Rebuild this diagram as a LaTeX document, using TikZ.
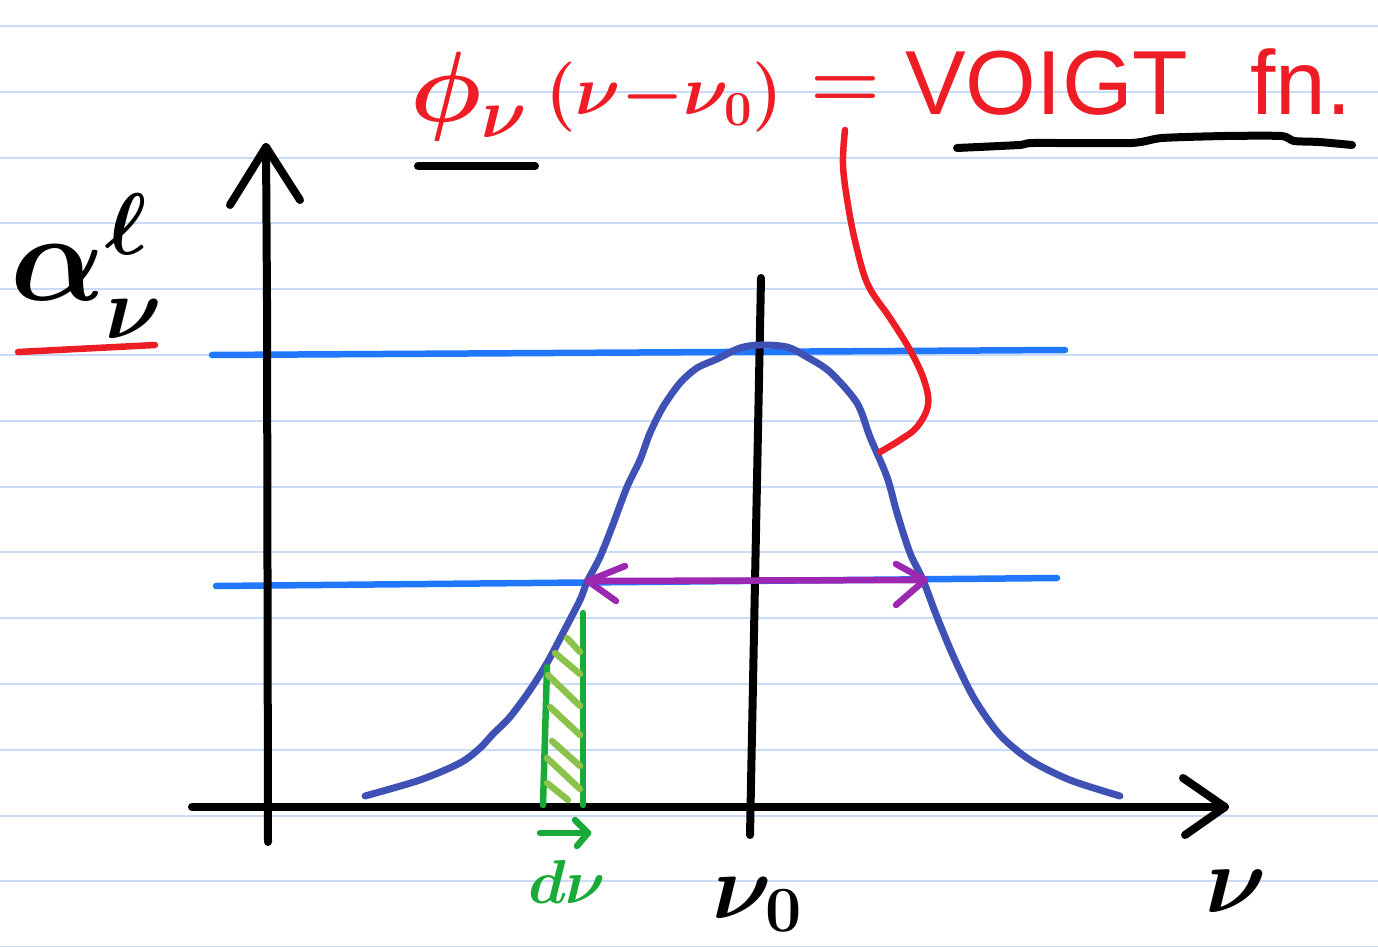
\RequirePackage{fix-cm}
\documentclass[tikz,border=0pt]{standalone}
\usepackage{fontspec}
\setmainfont{Liberation Sans}
\definecolor{rulecol}{HTML}{C8DCF7}
\definecolor{redpen}{HTML}{EE1C25}
\definecolor{bluepen}{HTML}{2277FF}
\definecolor{curvecol}{HTML}{3F51B5}
\definecolor{purplepen}{HTML}{9C27B0}
\definecolor{greenpen}{HTML}{1AAA3A}
\definecolor{lightgreen}{HTML}{8BC34A}
\newcommand\phinu{$\phi_{\nu}$}
\newcommand\argnu{$(\nu{-}\nu_{0})$}
\newcommand\alphalbl{$\alpha^{\ell}_{\nu}$}
\newcommand\dnulbl{$d\nu$}
\newcommand\nuzerolbl{$\nu_{0}$}
\newcommand\nulbl{$\nu$}
\newcommand\eqlbl{$=$}
\tikzset{
  paperrule/.style={rulecol, line width=2pt},
  blackpen/.style={line width=8pt, line cap=round, line join=round, black},
  bluehl/.style={line width=6.5pt, line cap=round, bluepen},
  curvepen/.style={line width=7pt, line cap=round, line join=round, curvecol},
  redline/.style={line width=6.5pt, line cap=round, line join=round, redpen},
  purpen/.style={line width=6.5pt, line cap=round, line join=round, purplepen},
  grpen/.style={line width=6.5pt, line cap=round, line join=round, greenpen},
  hatchpen/.style={line width=6.5pt, line cap=round, lightgreen},
  lbl/.style={inner sep=0pt, anchor=base west}
}
\begin{document}
\begin{tikzpicture}[x=1pt,y=-1pt]
\useasboundingbox (0,0) rectangle (1378,947);
\fill[white] (0,0) rectangle (1378,947);
% ruled paper
\foreach \k in {0,...,14} \draw[paperrule] (0,26+65.8*\k) -- (1378,26+65.8*\k);

% coordinates
\coordinate (ybot) at (268,842);
\coordinate (ytop) at (266,147);
\coordinate (xleft) at (192,807);
\coordinate (xright) at (1225,807);
\coordinate (nutop) at (761,278);
\coordinate (nubot) at (750,835);
\coordinate (hiL) at (212,355);
\coordinate (hiR) at (1065,350);
\coordinate (loL) at (216,586);
\coordinate (loR) at (1057,578);
\coordinate (hwL) at (588,581);
\coordinate (hwR) at (925,580);
\coordinate (redstart) at (845,130);
\coordinate (curvept) at (880,452);

% blue horizontal lines
\draw[bluehl] (hiL) -- (hiR);
\draw[bluehl] (loL) -- (loR);

% axes
\draw[blackpen] (ybot) -- (267,300) -- (ytop);
\draw[blackpen] (230,205) -- (ytop) -- (300,200);
\draw[blackpen] (xleft) -- (xright);
\draw[blackpen] (1183,778) -- (xright) -- (1185,835);
\draw[blackpen] (nutop) -- (nubot);

% profile curve
\draw[curvepen] plot[smooth, tension=0.5] coordinates {(365,796) (420,780) (460,763) (480,748) (493,734) (510,717) (530,690) (547,663) (563,633) (580,600) (587,582) (600,557) (612,527) (627,487) (640,460) (650,433) (663,407) (680,383) (697,368) (717,359) (740,348) (760,345) (787,347) (807,357) (830,372) (857,403) (870,437) (887,477) (897,513) (910,553) (923,580) (937,617) (955,660) (975,700) (1000,735) (1030,760) (1070,780) (1120,796)};

% half width arrow
\draw[purpen] (hwL) -- (hwR);
\draw[purpen] (625,566) -- (hwL) -- (616,601);
\draw[purpen] (896,564) -- (hwR) -- (896,605);

% green strip
\draw[grpen] (547,667) -- (543,805);
\draw[grpen] (583,613) -- (583,805);
\foreach \a/\b/\c/\d in {567/638/580/652, 555/653/580/674, 548/675/580/706, 550/707/580/735, 552/741/580/766, 547/758/580/789, 547/783/568/800}
  \draw[hatchpen] (\a,\b) -- (\c,\d);
\draw[grpen] (540,833) -- (588,833);
\draw[grpen] (575,820) -- (588,833) -- (577,846);

% red connector
\draw[redline] plot[smooth, tension=0.6] coordinates {(redstart) (843,165) (848,205) (856,245) (868,285) (890,318) (910,350) (924,380) (928,405) (917,427) (900,440) (curvept)};

% underlines
\draw[blackpen] (418,166) -- (535,166);
\draw[blackpen] plot[smooth, tension=0.4] coordinates {(957,148) (1019,145) (1034,143) (1131,143) (1162,138) (1225,136) (1281,136) (1294,141) (1319,142) (1352,145)};
\draw[redline] (18,352) -- (155,345);

% labels
\node[lbl, text=redpen, font=\fontsize{100}{100}\selectfont\boldmath] (phi) at (410,122) {\phinu};
\node[lbl, text=redpen, font=\fontsize{70}{70}\selectfont\boldmath] (arg) at (545,115) {\argnu};
\node[inner sep=0pt, text=redpen, font=\fontsize{80}{80}\selectfont\boldmath] (eq) at (845,92) {\eqlbl};
\node[lbl, text=redpen, font=\fontsize{91}{91}\selectfont] (voigt) at (905,115) {VOIGT};
\node[lbl, text=redpen, font=\fontsize{91}{91}\selectfont] (fn) at (1250,115) {fn.};
\node[lbl, font=\fontsize{125}{125}\selectfont\boldmath] (alpha) at (10,300) {\alphalbl};
\node[lbl, text=greenpen, font=\fontsize{62}{62}\selectfont\boldmath] (dnu) at (528,903) {\dnulbl};
\node[lbl, font=\fontsize{92}{92}\selectfont\boldmath] (nuzero) at (712,918) {\nuzerolbl};
\node[lbl, font=\fontsize{95}{95}\selectfont\boldmath] (nu) at (1205,912) {\nulbl};
\end{tikzpicture}
\end{document}
